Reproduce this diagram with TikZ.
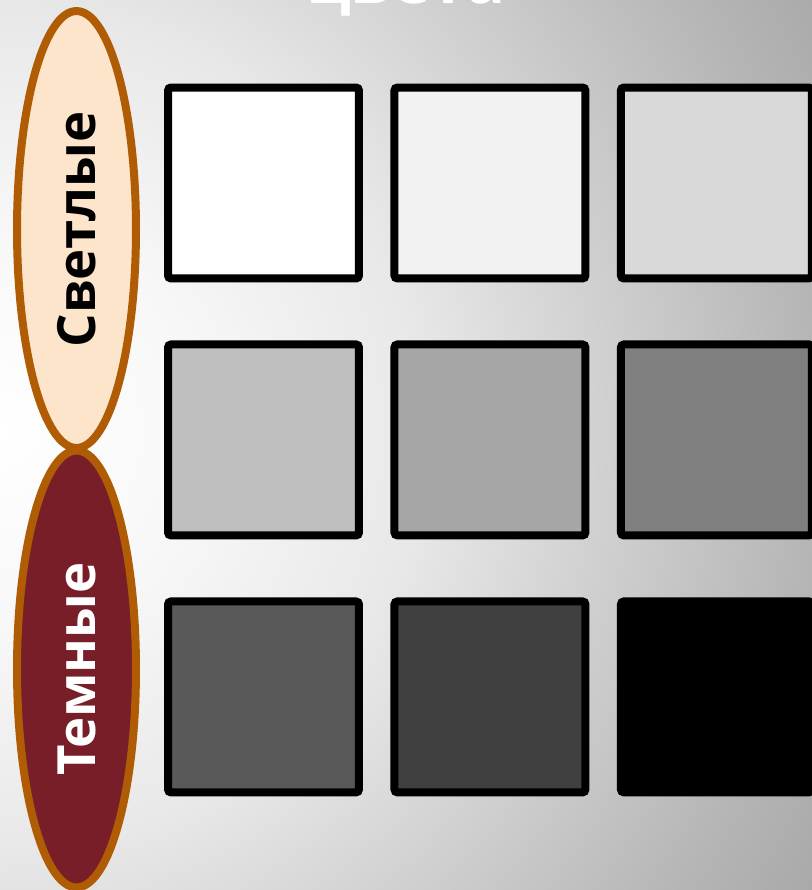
\documentclass[tikz,border=0pt]{standalone}
\usepackage{fontspec}
\setmainfont{Open Sans}
\usetikzlibrary{positioning, shapes.geometric}

\definecolor{ringbrown}{RGB}{176,92,4}
\definecolor{lightfill}{RGB}{253,229,204}
\definecolor{darkfill}{RGB}{119,30,41}

\pgfdeclareradialshading{bgglow}{\pgfpoint{0bp}{0bp}}{color(0bp)=(white); color(5bp)=(white!97!black); color(10.5bp)=(white!91!black); color(15bp)=(white!82!black); color(20.5bp)=(white!71!black); color(23.5bp)=(white!66!black); color(25bp)=(white!64!black); color(50bp)=(white!64!black)}

\begin{document}
\begin{tikzpicture}[x=0.02cm, y=0.02cm,
    swatch/.style={draw=black, line width=0.16cm, rounded corners=0.06cm, minimum size=3.82cm, inner sep=0pt},
    group/.style={ellipse, draw=ringbrown, line width=0.16cm, minimum width=8.74cm, minimum height=2.38cm, inner sep=0pt, rotate=90, font=\fontsize{30}{33}\selectfont\bfseries},
    title/.style={font=\fontsize{37}{40}\selectfont\bfseries, text=white},
]
    \useasboundingbox (0,0) rectangle (812,890);
    \begin{scope}
    \clip (0,0) rectangle (812,890);

    % Background glow
    \shade[shading=bgglow] (0,460) circle (1000);

    % Title (cut off at the top)
    \node[title, anchor=base] (title) at (406,886) {цвета};

    % Group labels
    \node[group, fill=lightfill] (light) at (76.5,660.5) {Светлые};
    \node[group, fill=darkfill, text=white] (dark) at (76.5,221) {Темные};

    % Row 1
    \node[swatch, fill=white] (s11) at (263.5,707) {};
    \node[swatch, fill=white!95!black, right=0.55cm of s11] (s12) {};
    \node[swatch, fill=white!85!black, right=0.55cm of s12] (s13) {};

    % Row 2
    \node[swatch, fill=white!75!black, below=1.16cm of s11] (s21) {};
    \node[swatch, fill=white!65!black, right=0.55cm of s21] (s22) {};
    \node[swatch, fill=white!50!black, right=0.55cm of s22] (s23) {};

    % Row 3
    \node[swatch, fill=white!35!black, below=1.16cm of s21] (s31) {};
    \node[swatch, fill=white!25!black, right=0.55cm of s31] (s32) {};
    \node[swatch, fill=black, right=0.55cm of s32] (s33) {};
    \end{scope}
\end{tikzpicture}
\end{document}
